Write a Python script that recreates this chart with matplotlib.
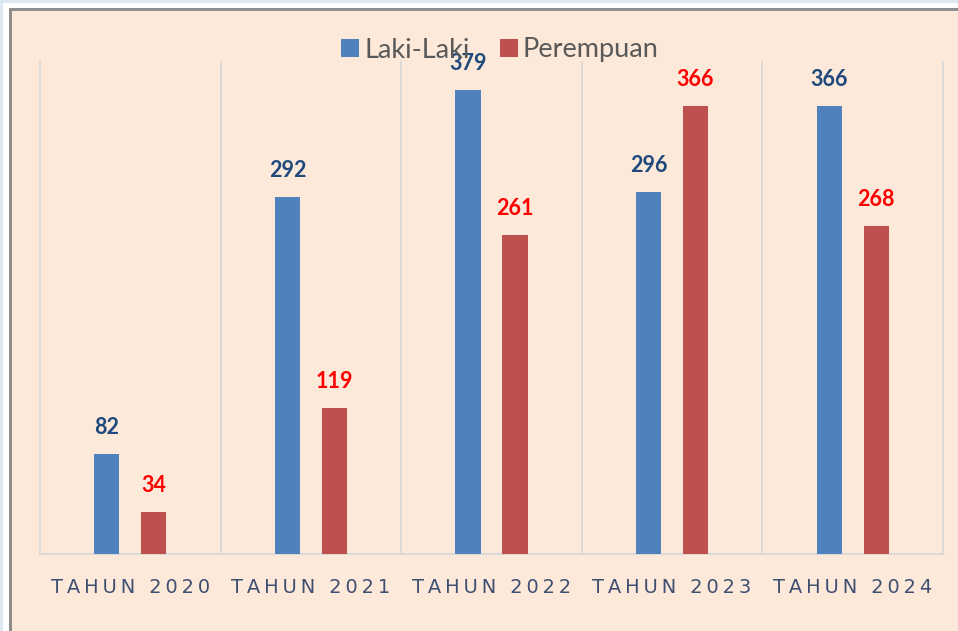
import matplotlib
matplotlib.use("Agg")
import matplotlib.pyplot as plt
from matplotlib.patches import Rectangle, Patch
import numpy as np

categories = ["TAHUN 2020", "TAHUN 2021", "TAHUN 2022", "TAHUN 2023", "TAHUN 2024"]
laki = [82, 292, 379, 296, 366]
perempuan = [34, 119, 261, 366, 268]
series_names = ["Laki-Laki", "Perempuan"]

BLUE = "#4F81BD"
RED = "#C0504D"
PEACH = "#FDE9D9"
BG = "#DCE7F4"

W, H = 958, 631
fig = plt.figure(figsize=(W / 100, H / 100), dpi=100)
fig.patch.set_facecolor(BG)

def fx(px):
    return px / W

def fy(py):
    return 1 - py / H

fig.add_artist(Rectangle((fx(3), -0.1), 1.2, fy(3) + 0.1, transform=fig.transFigure,
                         facecolor="white", edgecolor="none", zorder=0))
fig.add_artist(Rectangle((fx(9), -0.1), 1.2, fy(8) + 0.1, transform=fig.transFigure,
                         facecolor="#8E8E8E", edgecolor="none", zorder=0))
fig.add_artist(Rectangle((fx(12), -0.1), 1.2, fy(11) + 0.1, transform=fig.transFigure,
                         facecolor=PEACH, edgecolor="none", zorder=0))

ax = fig.add_axes([fx(40), fy(554), fx(943) - fx(40), fy(64.4) - fy(554)])
ax.set_facecolor("none")
ax.set_xlim(-0.5, len(categories) - 0.5)
ax.set_ylim(0, 400)

x = np.arange(len(categories))
off = 0.13
bw = 0.14
b1 = ax.bar(x - off, laki, width=bw, color=BLUE, zorder=3)
b2 = ax.bar(x + off, perempuan, width=bw, color=RED, zorder=3)

for rect, v in zip(b1, laki):
    ax.annotate(str(v), (rect.get_x() + rect.get_width() / 2, v), xytext=(0, 14.4),
                textcoords="offset points", ha="center", va="baseline",
                fontsize=15.5, fontweight="bold", color="#1F497D",
                family=["Lato", "DejaVu Sans"], zorder=4)
for rect, v in zip(b2, perempuan):
    ax.annotate(str(v), (rect.get_x() + rect.get_width() / 2, v), xytext=(0, 14.4),
                textcoords="offset points", ha="center", va="baseline",
                fontsize=15.5, fontweight="bold", color="#FF0000",
                family=["Lato", "DejaVu Sans"], zorder=4)

for b in np.arange(-0.5, len(categories), 1.0):
    ax.plot([b, b], [0, 402], color="#D9D9D9", lw=1.3, zorder=1, clip_on=False)
ax.plot([-0.5, len(categories) - 0.5], [0, 0], color="#D9D9D9", lw=1.5, zorder=2, clip_on=False)

for s in ax.spines.values():
    s.set_visible(False)
ax.set_yticks([])
ax.set_xticks(x)
spaced = ["\u2009".join(list(c)) for c in categories]
ax.set_xticklabels(spaced, fontsize=14, color="#3F4F72", family=["DejaVu Sans"])
ax.tick_params(axis="x", length=0, pad=17)

handles = [Patch(facecolor=BLUE, edgecolor="none"), Patch(facecolor=RED, edgecolor="none")]
fig.legend(handles, series_names, loc="center", bbox_to_anchor=(fx(500), fy(50)),
           ncol=2, frameon=False, handlelength=0.66, handleheight=0.66,
           handletextpad=0.2, columnspacing=1.1, labelcolor="#595959",
           prop={"family": ["Lato", "DejaVu Sans"], "size": 19.5})

fig.savefig("out.png", dpi=100, facecolor=fig.get_facecolor())
